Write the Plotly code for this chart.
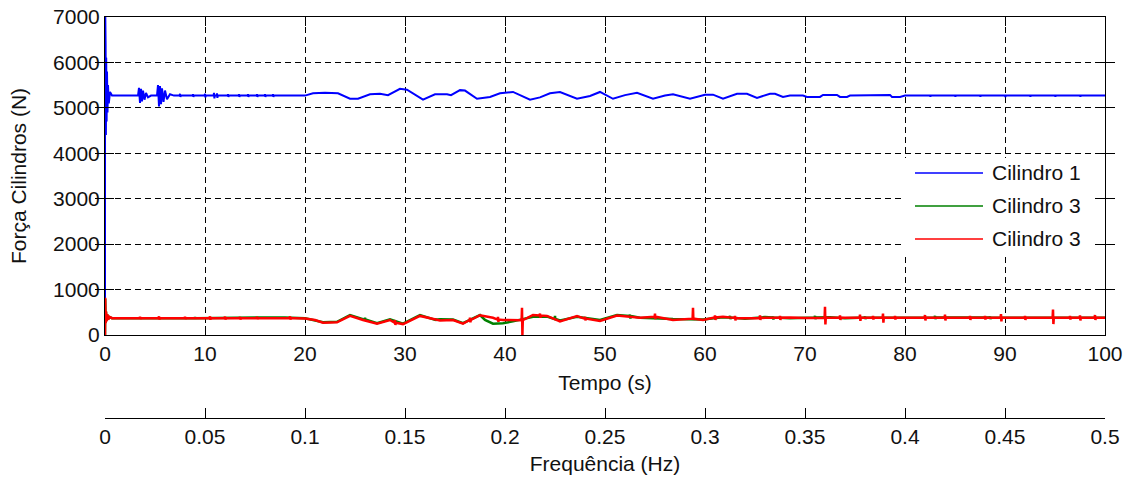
import plotly.graph_objects as go

# ---------------- data ----------------
# Cilindro 1 (blue): slow trend + transient bursts
blue_t = [0, 0.005, 0.03, 0.06, 0.09, 0.12, 0.16, 0.2, 0.25, 0.3, 0.38, 0.5, 0.7,
          3.3, 3.4, 3.5, 3.6, 3.7, 3.8, 3.95, 4.1, 4.3, 4.6,
          5.2, 5.3, 5.4, 5.5, 5.6, 5.7, 5.85, 6.0, 6.2, 6.5, 6.9,
          20.0, 20.8, 22.0, 23.3, 24.5, 25.3, 26.5, 27.5, 28.3, 29.5, 30.2, 31.8, 33.0, 34.2,
          34.6, 35.5, 36.0, 37.2, 38.5, 39.5, 40.8, 42.5, 43.5, 44.5, 45.5, 47.2, 48.5, 49.5,
          50.8, 52.0, 53.2, 54.8, 56.0, 56.8, 58.5, 60.0, 60.8, 61.8, 63.2, 64.2, 65.2, 66.5,
          67.0, 67.8, 68.5, 69.8, 70.2, 71.5, 71.8, 73.2, 73.5, 74.2, 74.5, 76.8, 77.2, 78.5,
          78.7, 79.5, 80.0, 100.0]
blue_v = [0, 7500, 4300, 6400, 4400, 6100, 4700, 5800, 4900, 5500, 5100, 5350, 5270,
          5270, 5440, 5110, 5420, 5140, 5380, 5180, 5330, 5230, 5270,
          5270, 5500, 5030, 5480, 5080, 5430, 5130, 5380, 5190, 5300, 5270,
          5270, 5320, 5330, 5320, 5200, 5200, 5300, 5310, 5280, 5420, 5400, 5180, 5300, 5300,
          5280, 5390, 5380, 5200, 5240, 5320, 5350, 5180, 5230, 5320, 5350, 5200, 5260, 5350,
          5200, 5280, 5330, 5200, 5270, 5300, 5200, 5290, 5290, 5200, 5310, 5310, 5220, 5310,
          5310, 5240, 5270, 5270, 5240, 5240, 5285, 5285, 5240, 5240, 5270, 5270, 5285, 5285,
          5240, 5240, 5270, 5270]
# small blips on the blue line: time, high, low, local level
blue_spike_t = [7.5, 8.8, 10.0, 10.9, 11.2, 12.3, 13.4, 14.3, 15.2, 16.0, 16.8,
                82.5, 85.0, 87.5, 90.0, 92.5, 95.0, 97.5]
blue_spike_hi = [5310, 5300, 5310, 5330, 5320, 5300, 5300, 5300, 5300, 5300, 5300,
                 5270, 5270, 5270, 5270, 5270, 5270, 5270]
blue_spike_lo = [5240, 5240, 5230, 5210, 5220, 5240, 5240, 5240, 5240, 5240, 5240,
                 5245, 5245, 5245, 5240, 5245, 5245, 5245]
blue_spike_base = [5270] * 18

# Cilindro 3 (green)
green_t = [0, 0.02, 0.06, 0.1, 0.15, 0.22, 0.3, 0.45, 0.7, 16, 17, 18,
           20, 21.8, 23.2, 24.5, 25.8, 27.2, 28.5, 29.8, 31.5, 33.5, 34.8, 35.8, 37.5, 38.0,
           38.8, 39.8, 40.8, 42.8, 44.2, 45.5, 47.2, 49.5, 51.2, 53.5, 56.8, 59.8, 61.8, 64,
           66, 68.5, 70, 72.5, 74, 76, 78, 80, 85, 90, 95, 100]
green_v = [0, 800, 270, 510, 310, 450, 345, 395, 370, 385, 390, 385,
           370, 280, 290, 440, 350, 260, 345, 250, 440, 345, 340, 260, 440, 330,
           250, 260, 300, 400, 405, 320, 400, 330, 440, 380, 350, 340, 390, 360,
           395, 370, 385, 390, 370, 395, 380, 380, 385, 380, 385, 380]
green_spike_t = [9.0, 26.0, 33.0, 45.0, 52.5, 62.5, 66.8, 71.0, 76.0, 83.0, 88.5]
green_spike_hi = [395, 380, 370, 420, 450, 420, 410, 420, 410, 420, 410]
green_spike_lo = [350, 310, 310, 330, 360, 350, 340, 350, 350, 350, 350]
green_spike_base = [370, 340, 335, 350, 420, 385, 385, 385, 385, 385, 385]

# Cilindro 3 (red)
red_t = [0, 0.02, 0.06, 0.1, 0.15, 0.22, 0.3, 0.45, 0.7, 19.0,
         20.0, 21.0, 21.8, 23.2, 24.5, 25.8, 27.2, 28.5, 29.8, 31.5, 33.5, 34.8, 35.8, 37.5,
         38.8, 39.8, 40.8, 42.8, 44.2, 45.5, 47.2, 49.5, 51.2, 53.5, 56.8, 59.8, 61.8,
         64.0, 66.0, 68.5, 70.0, 100.0]
red_v = [0, 820, 260, 520, 300, 460, 340, 400, 370, 370,
         365, 330, 270, 280, 420, 330, 250, 330, 240, 420, 320, 330, 250, 435,
         380, 330, 320, 440, 420, 300, 415, 310, 430, 380, 330, 330, 400,
         370, 380, 385, 375, 380]
red_spike_t = [3.5, 5.4, 8.0, 10.5, 12.0, 13.5, 15.2, 18.5,
               29.0, 36.5, 39.3, 41.7, 43.5, 48.0, 55.0, 58.8, 61.0, 63.0, 65.5, 67.5,
               72.0, 73.5, 75.5, 76.8, 77.8, 79.0, 82.0, 84.0, 86.5, 88.0, 89.6, 92.0,
               94.8, 96.5, 97.5, 99.0]
red_spike_hi = [400, 410, 400, 410, 405, 400, 400, 410,
                330, 380, 400, 600, 470, 400, 470, 600, 430, 420, 430, 420,
                620, 430, 450, 420, 470, 420, 440, 450, 420, 420, 460, 420,
                560, 420, 430, 440]
red_spike_lo = [345, 340, 345, 335, 340, 340, 345, 340,
                220, 280, 290, 0, 380, 320, 350, 330, 330, 320, 330, 330,
                230, 330, 310, 340, 270, 340, 320, 320, 330, 340, 300, 330,
                240, 340, 320, 330]
red_spike_base = [370, 370, 370, 370, 370, 370, 370, 370,
                  270, 330, 340, 325, 430, 360, 400, 360, 385, 375, 375, 382,
                  380, 380, 380, 380, 380, 380, 380, 380, 380, 380, 380, 380,
                  380, 380, 380, 380]

# axes ticks
time_ticks = [0, 10, 20, 30, 40, 50, 60, 70, 80, 90, 100]
force_ticks = [0, 1000, 2000, 3000, 4000, 5000, 6000, 7000]
freq_ticks = [0, 0.05, 0.1, 0.15, 0.2, 0.25, 0.3, 0.35, 0.4, 0.45, 0.5]
freq_labels = ["0", "0.05", "0.1", "0.15", "0.2", "0.25", "0.3", "0.35", "0.4", "0.45", "0.5"]

series_names = ["Cilindro 1", "Cilindro 3", "Cilindro 3"]
series_colors = ["#0000FF", "#008000", "#FF0000"]


def with_spikes(t, v, st, shi, slo, sbase, w=0.04):
    """Merge read trend points with read spikes (each spike: level, high, low, level)."""
    pts = list(zip(t, v))
    for ti, hi, lo, b in zip(st, shi, slo, sbase):
        pts += [(ti - w, b), (ti, hi), (ti + w, lo), (ti + 2 * w, b)]
    pts.sort(key=lambda p: p[0])
    return [p[0] for p in pts], [p[1] for p in pts]


bx, by = with_spikes(blue_t, blue_v, blue_spike_t, blue_spike_hi, blue_spike_lo, blue_spike_base)
gx, gy = with_spikes(green_t, green_v, green_spike_t, green_spike_hi, green_spike_lo, green_spike_base)
rx, ry = with_spikes(red_t, red_v, red_spike_t, red_spike_hi, red_spike_lo, red_spike_base)

# ---------------- figure ----------------
FONT = "Liberation Sans, Arial, sans-serif"
FS = 21

fig = go.Figure()
fig.add_trace(go.Scatter(x=bx, y=by, mode="lines", name=series_names[0],
                         line=dict(color=series_colors[0], width=2), showlegend=False))
fig.add_trace(go.Scatter(x=gx, y=gy, mode="lines", name=series_names[1],
                         line=dict(color=series_colors[1], width=2.5), showlegend=False))
fig.add_trace(go.Scatter(x=rx, y=ry, mode="lines", name=series_names[2],
                         line=dict(color=series_colors[2], width=2.5), showlegend=False))
# carrier trace for the frequency axis
fig.add_trace(go.Scatter(x=[freq_ticks[0], freq_ticks[-1]], y=[None, None], xaxis="x2",
                         yaxis="y", mode="lines", showlegend=False, hoverinfo="skip"))

axis_common = dict(showline=True, linecolor="black", linewidth=1, mirror="allticks",
                   ticks="inside", ticklen=9, tickcolor="black", tickwidth=1,
                   showgrid=True, gridcolor="black", gridwidth=1, griddash="6px,4px",
                   zeroline=False, automargin=False,
                   tickfont=dict(family=FONT, size=FS, color="#111"))

fig.update_layout(
    width=1127, height=481,
    margin=dict(l=105, r=22, t=17, b=63, autoexpand=False),
    paper_bgcolor="white", plot_bgcolor="white",
    font=dict(family=FONT, size=FS, color="#111"),
    xaxis=dict(range=[0, 100], tickvals=time_ticks, anchor="y",
               title=dict(text="Tempo (s)", standoff=11, font=dict(family=FONT, size=FS)),
               **axis_common),
    yaxis=dict(range=[0, 7000], tickvals=force_ticks, domain=[0.207, 1],
               title=dict(text="Força Cilindros (N)", standoff=20, font=dict(family=FONT, size=FS)),
               **axis_common),
    xaxis2=dict(range=[0, 0.5], tickvals=freq_ticks, ticktext=freq_labels,
                overlaying="x", anchor="free", position=0, side="bottom",
                showline=True, linecolor="black", linewidth=1, ticks="inside",
                ticklen=10, tickcolor="black", showgrid=False, zeroline=False, automargin=False,
                tickfont=dict(family=FONT, size=FS, color="#111"),
                title=dict(text="Frequência (Hz)", standoff=9, font=dict(family=FONT, size=FS))),
    showlegend=False,
)

# custom legend (white box, long line samples)
leg_y = [0.611, 0.5287, 0.4464]
fig.add_shape(type="rect", xref="paper", yref="paper", x0=0.80, x1=0.99, y0=0.4115, y1=0.6484,
              fillcolor="white", line=dict(width=0), layer="above")
for name, col, yy in zip(series_names, series_colors, leg_y):
    fig.add_shape(type="line", xref="paper", yref="paper", x0=0.81, x1=0.878, y0=yy, y1=yy,
                  line=dict(color=col, width=1.5), layer="above")
    fig.add_annotation(xref="paper", yref="paper", x=0.885, y=yy, text=name, showarrow=False,
                       xanchor="left", yanchor="middle", font=dict(family=FONT, size=FS, color="#111"))

fig.write_html("out.html")
